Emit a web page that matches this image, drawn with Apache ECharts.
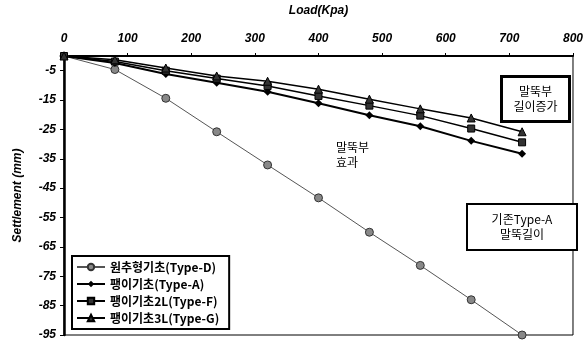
<!DOCTYPE html>
<html>
<head>
<meta charset="utf-8">
<script src="https://cdn.jsdelivr.net/npm/echarts@6/dist/echarts.min.js"></script>
<style>
  html, body { margin: 0; padding: 0; background: #fff; }
  #chart { width: 586px; height: 341px; }
</style>
</head>
<body>
<div id="chart"></div>
<script>
// 하중 단계 (Kpa)
var loads = [0, 80, 160, 240, 320, 400, 480, 560, 640, 720];
var seriesNames = ['원추형기초(Type-D)', '팽이기초(Type-A)', '팽이기초2L(Type-F)', '팽이기초3L(Type-G)'];
var typeD = [0, -4.6, -14.4, -25.8, -37.1, -48.3, -60, -71.3, -83, -95];
var typeA = [0, -2.4, -6.1, -9.1, -12.2, -16.1, -20.2, -23.9, -28.9, -33.3];
var typeF = [0, -1.9, -5, -7.7, -10.2, -13.6, -16.9, -20.3, -24.7, -29.4];
var typeG = [0, -1.3, -4.1, -6.8, -8.6, -11.3, -14.7, -18, -21.1, -25.8];

function pairs(vals) {
    return loads.map(function (x, i) { return [x, vals[i]]; });
}

var chart = echarts.init(document.getElementById('chart'));
var axisFont = { fontFamily: 'Liberation Sans', fontStyle: 'italic', fontWeight: 'bold', fontSize: 12, color: '#000' };

chart.setOption({
    backgroundColor: '#fff',
    animation: false,
    grid: { left: 64, top: 51, right: 12, bottom: 3, show: true, borderColor: '#000', borderWidth: 1 },
    xAxis: {
        type: 'value',
        position: 'top',
        min: 0, max: 800, interval: 100,
        name: 'Load(Kpa)',
        nameLocation: 'middle',
        nameGap: 39,
        nameTextStyle: axisFont,
        axisLine: { show: true, lineStyle: { color: '#000', width: 2 } },
        axisTick: { show: true, length: 3, lineStyle: { color: '#000' } },
        axisLabel: Object.assign({ margin: 11 }, axisFont),
        splitLine: { show: false }
    },
    yAxis: {
        type: 'value',
        min: -95, max: 0, interval: 10,
        name: 'Settlement (mm)',
        nameLocation: 'middle',
        nameGap: 40,
        nameTextStyle: axisFont,
        axisLine: { show: true, onZero: false, lineStyle: { color: '#000', width: 2.5 } },
        axisTick: { show: true, length: 4, lineStyle: { color: '#000' } },
        axisLabel: Object.assign({ margin: 8, showMaxLabel: false }, axisFont),
        splitLine: { show: false }
    },
    legend: {
        orient: 'vertical',
        left: 72, top: 256,
        data: seriesNames,
        itemWidth: 28, itemHeight: 8, itemGap: 5,
        padding: [5, 10, 5, 4],
        borderColor: '#000', borderWidth: 2,
        backgroundColor: '#fff',
        textStyle: { fontFamily: 'Noto Sans CJK KR', fontWeight: 'bold', fontSize: 12, color: '#000' }
    },
    graphic: [
        {
            type: 'group', left: 500, top: 75,
            children: [
                { type: 'rect', shape: { x: 0, y: 0, width: 68, height: 45 }, style: { fill: '#fff', stroke: '#000', lineWidth: 3 } },
                { type: 'text', x: 34, y: 22, style: { text: '말뚝부\n길이증가', align: 'center', verticalAlign: 'middle', font: '12px "Noto Sans CJK KR"', lineHeight: 15, fill: '#000' } }
            ]
        },
        {
            type: 'group', left: 466, top: 203,
            children: [
                { type: 'rect', shape: { x: 0, y: 0, width: 110, height: 46 }, style: { fill: '#fff', stroke: '#000', lineWidth: 2 } },
                { type: 'text', x: 55, y: 23, style: { text: '기존Type-A\n말뚝길이', align: 'center', verticalAlign: 'middle', font: '12px "Noto Sans CJK KR"', lineHeight: 15, fill: '#000' } }
            ]
        },
        {
            type: 'text', left: 336, top: 140,
            style: { text: '말뚝부\n효과', align: 'center', font: '12px "Noto Sans CJK KR"', lineHeight: 15, fill: '#000' }
        }
    ],
    series: [
        {
            name: seriesNames[0], type: 'line', data: pairs(typeD),
            symbol: 'circle', symbolSize: 8,
            lineStyle: { color: '#555', width: 1 },
            itemStyle: { color: '#888', borderColor: '#333', borderWidth: 1 }
        },
        {
            name: seriesNames[1], type: 'line', data: pairs(typeA),
            symbol: 'diamond', symbolSize: 8,
            lineStyle: { color: '#000', width: 2 },
            itemStyle: { color: '#000' }
        },
        {
            name: seriesNames[2], type: 'line', data: pairs(typeF),
            symbol: 'rect', symbolSize: 7,
            lineStyle: { color: '#000', width: 1.5 },
            itemStyle: { color: '#333', borderColor: '#000', borderWidth: 1 }
        },
        {
            name: seriesNames[3], type: 'line', data: pairs(typeG),
            symbol: 'triangle', symbolSize: 8,
            lineStyle: { color: '#000', width: 1.5 },
            itemStyle: { color: '#333', borderColor: '#000', borderWidth: 1 }
        }
    ]
});
</script>
</body>
</html>
